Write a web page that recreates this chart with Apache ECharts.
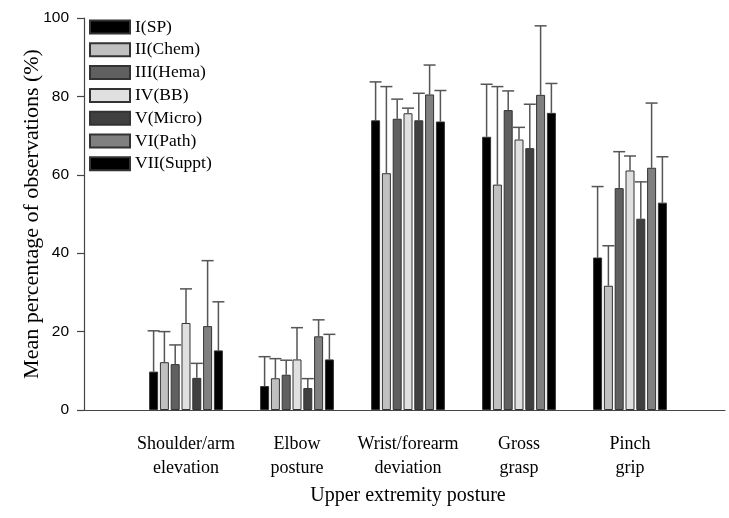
<!DOCTYPE html>
<html><head><meta charset="utf-8">
<script src="https://cdn.jsdelivr.net/npm/echarts@6/dist/echarts.min.js"></script>
<style>html,body{margin:0;padding:0;background:#fff}#c{width:729px;height:518px}</style>
</head><body><div id="c"></div>
<script>
const categories = ['Shoulder/arm\nelevation', 'Elbow\nposture', 'Wrist/forearm\ndeviation', 'Gross\ngrasp', 'Pinch\ngrip'];
const seriesNames = ['I(SP)', 'II(Chem)', 'III(Hema)', 'IV(BB)', 'V(Micro)', 'VI(Path)', 'VII(Suppt)'];
const seriesColors = ['#000000', '#c0c0c0', '#606060', '#e0e0e0', '#404040', '#808080', '#000000'];
const yTicks = [0, 20, 40, 60, 80, 100];

const meanI   = [9.8, 6.1, 73.9, 69.7, 38.9];
const meanII  = [12.2, 8.1, 60.4, 57.5, 31.7];
const meanIII = [11.7, 9.0, 74.3, 76.5, 56.6];
const meanIV  = [22.2, 12.9, 75.7, 69.0, 61.1];
const meanV   = [8.2, 5.6, 73.9, 66.8, 48.8];
const meanVI  = [21.4, 18.8, 80.5, 80.4, 61.8];
const meanVII = [15.2, 12.9, 73.6, 75.8, 52.9];

const sdI   = [10.4, 7.5, 9.8, 13.4, 18.1];
const sdII  = [7.8, 5.0, 22.1, 25.0, 10.2];
const sdIII = [4.9, 3.7, 5.0, 4.9, 9.3];
const sdIV  = [8.7, 8.1, 1.3, 3.1, 3.7];
const sdV   = [3.7, 2.4, 6.9, 11.2, 9.4];
const sdVI  = [16.7, 4.2, 7.5, 17.6, 16.5];
const sdVII = [12.4, 6.4, 7.9, 7.5, 11.7];

const means = [meanI, meanII, meanIII, meanIV, meanV, meanVI, meanVII];
const sds = [sdI, sdII, sdIII, sdIV, sdV, sdVI, sdVII];

const BAR_W = 9, GAP = 1.8;
const nS = seriesNames.length;

const series = [];
seriesNames.forEach((name, i) => {
  series.push({
    name: name, type: 'bar', xAxisIndex: 1, yAxisIndex: 1,
    barWidth: BAR_W, barGap: (GAP / BAR_W * 100) + '%',
    itemStyle: { color: seriesColors[i], borderColor: '#333', borderWidth: 1 },
    data: means[i], z: 3
  });
});
seriesNames.forEach((name, i) => {
  const offset = (i - (nS - 1) / 2) * (BAR_W + GAP);
  series.push({
    type: 'custom', xAxisIndex: 1, yAxisIndex: 1, z: 2, silent: true,
    data: means[i].map((m, k) => [k, m, m + sds[i][k]]),
    renderItem: function (params, api) {
      const lo = api.coord([api.value(0), api.value(1)]);
      const hi = api.coord([api.value(0), api.value(2)]);
      const x = lo[0] + offset;
      const st = { stroke: '#555', lineWidth: 1.5 };
      return { type: 'group', children: [
        { type: 'line', shape: { x1: x, y1: lo[1], x2: x, y2: hi[1] }, style: st },
        { type: 'line', shape: { x1: x - 6, y1: hi[1], x2: x + 6, y2: hi[1] }, style: st }
      ]};
    }
  });
});

const chart = echarts.init(document.getElementById('c'));
chart.setOption({
  animation: false,
  backgroundColor: '#fff',
  grid: [
    { left: 84, right: 4, top: 18, bottom: 108 },
    { left: 130.5, width: 555, top: 18, bottom: 108 }
  ],
  legend: {
    orient: 'vertical', left: 84, top: 13,
    itemWidth: 40, itemHeight: 13, itemGap: 4.8, icon: 'rect',
    data: seriesNames,
    textStyle: { fontFamily: 'Liberation Serif', fontSize: 17.5, color: '#000', lineHeight: 13 }
  },
  xAxis: [
    { gridIndex: 0, type: 'value', min: 0, max: 1,
      axisLine: { show: true, onZero: false, lineStyle: { color: '#444', width: 1.2 } },
      axisTick: { show: false }, axisLabel: { show: false }, splitLine: { show: false } },
    { gridIndex: 1, type: 'category', data: categories,
      axisLine: { show: false }, axisTick: { show: false },
      axisLabel: { interval: 0, margin: 22, fontFamily: 'Liberation Serif', fontSize: 18, color: '#000', lineHeight: 24 },
      name: 'Upper extremity posture', nameLocation: 'middle', nameGap: 76, nameMoveOverlap: false,
      nameTextStyle: { fontFamily: 'Liberation Serif', fontSize: 20, color: '#000' } }
  ],
  yAxis: [
    { gridIndex: 0, type: 'value', min: 0, max: 100, interval: 20,
      axisLine: { show: true, lineStyle: { color: '#444', width: 1.2 } },
      axisTick: { show: true, length: 7, lineStyle: { color: '#444', width: 1.2 } },
      axisLabel: { margin: 15, fontFamily: 'Liberation Sans', fontSize: 15.5, color: '#000',
        formatter: v => yTicks.includes(v) ? String(v) : '' },
      splitLine: { show: false },
      name: 'Mean percentage of observations (%)', nameLocation: 'middle', nameGap: 41, nameMoveOverlap: false,
      nameTextStyle: { fontFamily: 'Liberation Serif', fontSize: 22, color: '#000' } },
    { gridIndex: 1, type: 'value', min: 0, max: 100, interval: 20, show: false }
  ],
  series: series
});
</script></body></html>
